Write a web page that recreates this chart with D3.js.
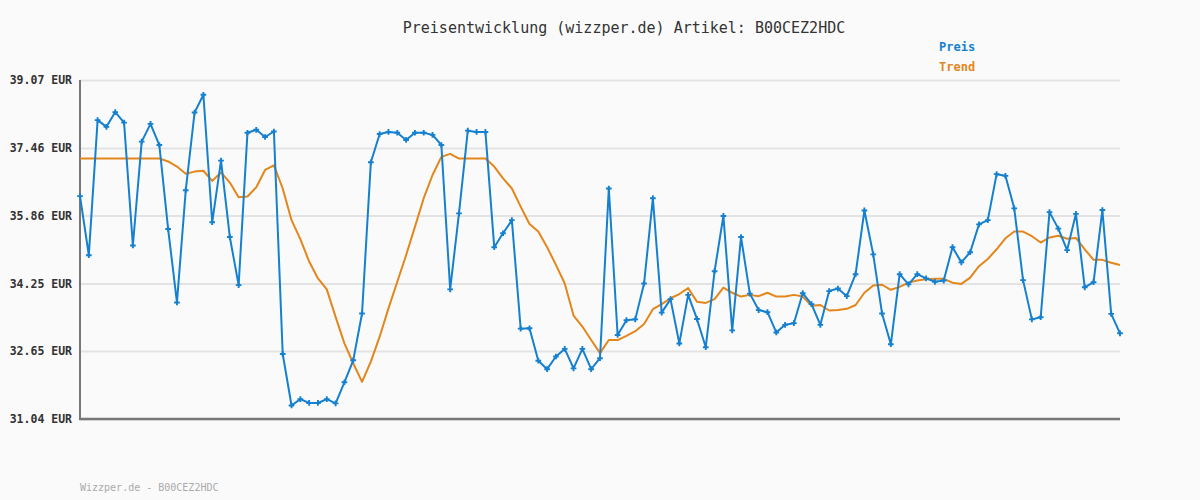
<!DOCTYPE html>
<html><head><meta charset="utf-8">
<script src="https://cdn.jsdelivr.net/npm/d3@7"></script>
<style>
html,body{margin:0;padding:0;background:#fafafa;}
svg{display:block;}
</style></head>
<body>
<svg id="chart" width="1200" height="500"></svg>
<script>
const title = "Preisentwicklung (wizzper.de) Artikel: B00CEZ2HDC";
const footer = "Wizzper.de - B00CEZ2HDC";
const seriesNames = ["Preis", "Trend"];
const yTicks = [31.04, 32.65, 34.25, 35.86, 37.46, 39.07];
const preis = [
36.32,34.92,38.12,37.96,38.31,38.06,35.15,37.61,38.03,37.53,
35.54,33.80,36.46,38.30,38.72,35.70,37.16,35.35,34.21,37.82,
37.89,37.72,37.85,32.58,31.36,31.51,31.42,31.42,31.51,31.41,
31.91,32.43,33.54,37.12,37.79,37.84,37.82,37.65,37.82,37.82,
37.77,37.53,34.11,35.91,37.87,37.84,37.84,35.11,35.44,35.75,
33.18,33.19,32.42,32.22,32.52,32.70,32.24,32.70,32.22,32.48,
36.50,33.03,33.38,33.40,34.25,36.27,33.56,33.88,32.83,33.98,
33.41,32.74,34.54,35.85,33.14,35.35,34.01,33.62,33.57,33.09,
33.27,33.31,34.02,33.76,33.27,34.07,34.13,33.95,34.47,35.98,
34.94,33.54,32.81,34.47,34.23,34.47,34.37,34.29,34.32,35.11,
34.75,34.99,35.65,35.75,36.84,36.80,36.03,34.33,33.40,33.45,
35.94,35.55,35.04,35.90,34.16,34.28,35.99,33.53,33.07
];
const trend = [
37.21,37.21,37.21,37.21,37.21,37.21,37.21,37.21,37.21,37.21,
37.14,37.02,36.85,36.90,36.92,36.68,36.88,36.64,36.29,36.31,
36.53,36.94,37.05,36.50,35.75,35.30,34.77,34.37,34.11,33.46,
32.83,32.36,31.92,32.40,32.99,33.66,34.29,34.92,35.59,36.27,
36.82,37.25,37.32,37.21,37.21,37.21,37.21,37.02,36.74,36.50,
36.07,35.66,35.48,35.11,34.69,34.25,33.49,33.23,32.91,32.60,
32.91,32.91,33.01,33.12,33.29,33.64,33.76,33.90,34.00,34.14,
33.82,33.79,33.88,34.15,34.03,33.94,33.98,33.95,34.03,33.94,
33.94,33.98,33.94,33.72,33.74,33.61,33.62,33.65,33.74,34.03,
34.20,34.22,34.10,34.17,34.27,34.32,34.35,34.36,34.36,34.27,
34.24,34.39,34.66,34.83,35.06,35.32,35.48,35.48,35.37,35.22,
35.34,35.38,35.31,35.33,35.06,34.81,34.81,34.74,34.69
];
const colors = ["#1580cf", "#e3861b"];

const svg = d3.select("#chart");
const W = 1200, H = 500;
const m = {left: 80, right: 80, top: 80, bottom: 81};
const x = d3.scaleLinear().domain([0, preis.length - 1]).range([m.left, W - m.right]);
const y = d3.scaleLinear().domain([yTicks[0], yTicks[yTicks.length-1]]).range([H - m.bottom, m.top]);
const mono = "'DejaVu Sans Mono', 'Liberation Mono', monospace";

svg.append("rect").attr("width", W).attr("height", H).attr("fill", "#fafafa");

// grid
const grid = svg.append("g").attr("transform", `translate(${m.left},0)`)
  .call(d3.axisLeft(y).tickValues(yTicks).tickSize(-(W - m.left - m.right)).tickFormat(""));
grid.select(".domain").remove();
grid.selectAll("line").attr("stroke", "#e3e3e3").attr("stroke-width", 2);

// y axis labels
const ya = svg.append("g").attr("transform", `translate(${m.left},0)`)
  .call(d3.axisLeft(y).tickValues(yTicks).tickSize(0).tickPadding(8).tickFormat(d => d.toFixed(2) + " EUR"));
ya.select(".domain").remove();
ya.selectAll("text").attr("font-family", mono).attr("font-size", 11.5).attr("font-weight", "bold").attr("fill", "#333");

// axes lines
svg.append("line").attr("x1", m.left).attr("x2", m.left).attr("y1", y(yTicks[yTicks.length-1])).attr("y2", y(yTicks[0]) + 1)
  .attr("stroke", "#777").attr("stroke-width", 2);
svg.append("line").attr("x1", m.left - 1).attr("x2", W - m.right).attr("y1", y(yTicks[0])).attr("y2", y(yTicks[0]))
  .attr("stroke", "#777").attr("stroke-width", 2.5);

const line = d3.line().x((d, i) => x(i)).y(d => y(d));

svg.append("path").datum(trend).attr("d", line).attr("fill", "none")
  .attr("stroke", colors[1]).attr("stroke-width", 2).attr("stroke-linejoin", "round");
svg.append("path").datum(preis).attr("d", line).attr("fill", "none")
  .attr("stroke", colors[0]).attr("stroke-width", 2).attr("stroke-linejoin", "round");

const sym = d3.symbol().type(d3.symbolCross).size(18);
svg.append("g").selectAll("path").data(preis).join("path")
  .attr("d", sym).attr("transform", (d, i) => `translate(${x(i)},${y(d)})`).attr("fill", colors[0]);

// title
svg.append("text").attr("x", 624).attr("y", 33).attr("text-anchor", "middle")
  .attr("font-family", mono).attr("font-size", 15).attr("fill", "#333").text(title);

// legend
seriesNames.forEach((n, i) => {
  svg.append("text").attr("x", 939).attr("y", 51 + i * 20).attr("font-family", mono)
    .attr("font-size", 12).attr("font-weight", "bold").attr("fill", colors[i]).text(n);
});

// footer
svg.append("text").attr("x", 80).attr("y", 491).attr("font-family", mono)
  .attr("font-size", 10).attr("fill", "#aaa").text(footer);
</script>
</body></html>
